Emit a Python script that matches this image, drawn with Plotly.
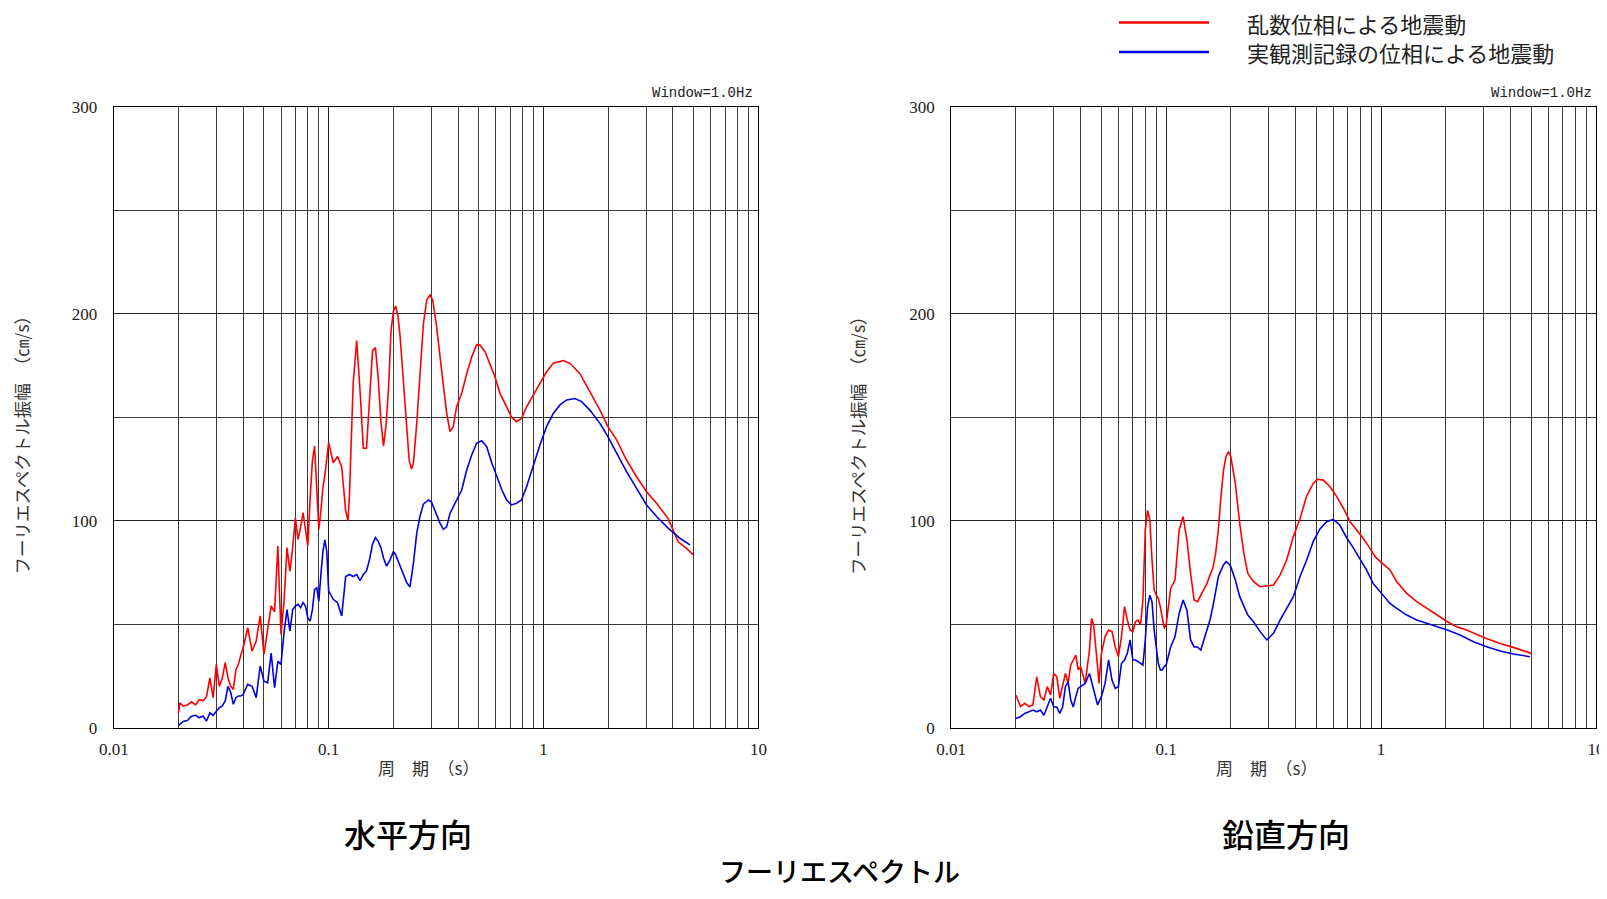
import plotly.graph_objs as go
from plotly.subplots import make_subplots

# ---- 水平方向 : 乱数位相 ----
h_rand_T = [0.0200, 0.0203, 0.021, 0.022, 0.023, 0.024, 0.025, 0.026, 0.027, 0.028, 0.029, 0.030,
            0.031, 0.032, 0.033, 0.034, 0.035, 0.036, 0.037, 0.038, 0.039, 0.040, 0.042, 0.044,
            0.046, 0.048, 0.050, 0.052, 0.054, 0.056, 0.058, 0.060, 0.062, 0.064, 0.066, 0.068,
            0.070, 0.072, 0.074, 0.076, 0.078, 0.080, 0.082, 0.084, 0.086, 0.088, 0.090, 0.092,
            0.094, 0.096, 0.098, 0.100, 0.105, 0.110, 0.115, 0.120, 0.123, 0.125, 0.130, 0.135,
            0.140, 0.145, 0.150, 0.155, 0.160, 0.165, 0.170, 0.175, 0.180, 0.185, 0.190, 0.195,
            0.200, 0.205, 0.210, 0.215, 0.222, 0.229, 0.237, 0.243, 0.248, 0.257, 0.266, 0.276,
            0.286, 0.296, 0.305, 0.318, 0.330, 0.342, 0.354, 0.367, 0.380, 0.394, 0.416, 0.439,
            0.463, 0.488, 0.506, 0.534, 0.563, 0.594, 0.627, 0.673, 0.710, 0.749, 0.790, 0.834,
            0.895, 0.962, 1.033, 1.110, 1.235, 1.327, 1.476, 1.643, 1.830, 1.993, 2.187, 2.434,
            2.710, 3.016, 3.357, 3.803, 4.013, 4.233, 4.629, 4.971]
h_rand_A = [7, 12, 10.5, 11, 12.5, 11, 13.5, 13, 15, 24, 14.5, 30.6,
            20, 24, 31.4, 24, 20, 18.5, 28, 30.6, 35, 38.6, 48.3, 37,
            41.9, 54, 35.4, 48, 58.8, 56, 87.8, 45, 61, 87, 75.5, 87,
            101.4, 91, 96.6, 103.9, 95, 87.8, 111, 128.8, 136, 112.7, 95.8, 104.7,
            116, 122, 128.8, 137.7, 128, 131, 126, 104.7, 100, 112.7, 166, 187,
            162.6, 135, 135, 159, 182, 183.6, 169, 148, 136, 146.5, 164, 191.6,
            201, 203.7, 199, 189, 170, 147, 129, 125, 127.7, 147, 169.5, 195,
            206.6, 209, 206.6, 193.7, 179, 164.7, 152, 143, 145.4, 155, 161.5, 171,
            179, 185, 184.8, 181.6, 176, 169.5, 161.5, 155, 150, 147.8, 149.4, 155,
            160.7, 166, 171.9, 176, 177.3, 176, 171, 162.3, 153.4, 145.4, 139, 129.3,
            121.2, 114, 108.4, 101, 95.5, 89.8, 86.6, 83.5]

# ---- 水平方向 : 実観測記録の位相 ----
h_obs_T = [0.0200, 0.021, 0.022, 0.023, 0.024, 0.025, 0.026, 0.027, 0.028, 0.029, 0.030, 0.031,
           0.032, 0.033, 0.034, 0.035, 0.036, 0.037, 0.038, 0.039, 0.040, 0.042, 0.044, 0.046,
           0.048, 0.050, 0.052, 0.054, 0.056, 0.058, 0.060, 0.062, 0.064, 0.066, 0.068, 0.070,
           0.072, 0.074, 0.076, 0.078, 0.080, 0.082, 0.084, 0.086, 0.088, 0.090, 0.092, 0.094,
           0.096, 0.098, 0.100, 0.105, 0.110, 0.115, 0.120, 0.125, 0.130, 0.135, 0.140, 0.145,
           0.150, 0.155, 0.160, 0.165, 0.170, 0.175, 0.180, 0.186, 0.193, 0.200, 0.204, 0.211,
           0.219, 0.231, 0.239, 0.248, 0.257, 0.266, 0.276, 0.291, 0.301, 0.312, 0.330, 0.342,
           0.354, 0.367, 0.394, 0.416, 0.439, 0.463, 0.488, 0.515, 0.544, 0.575, 0.607, 0.640,
           0.673, 0.710, 0.749, 0.790, 0.834, 0.895, 0.962, 1.033, 1.110, 1.193, 1.281, 1.400,
           1.504, 1.643, 1.830, 1.993, 2.187, 2.434, 2.710, 3.016, 3.357, 3.803, 4.313, 4.801]
h_obs_A = [1, 3, 3.5, 5.6, 6, 4.8, 5.6, 3.2, 7.2, 6, 8, 9.7,
           10.5, 12.9, 20, 17, 11.3, 14.5, 15.3, 15.3, 16, 21, 20, 14.5,
           29.8, 22.5, 21.7, 36, 19.3, 32, 30.6, 46, 57, 46.7, 57, 58.8,
           59.6, 58, 60.4, 58.8, 53, 51.5, 57, 66.8, 67.6, 61, 74, 85,
           90.7, 85, 66, 62, 60.4, 54, 73, 74, 73, 74, 71, 74,
           75.7, 81.3, 88.6, 91.8, 90, 87, 82, 78, 81, 85, 84, 80,
           76, 70, 68, 79.4, 94, 102, 108, 110, 109, 105, 98.7, 95.8,
           97, 103.5, 110, 114.8, 124.5, 131.7, 137.4, 138.6, 135.7, 127.7, 121.2, 114.8,
           110, 107.6, 108.4, 110, 116.4, 126.9, 136.5, 145.4, 151.8, 155.9, 158.3, 159,
           157.5, 153.4, 147, 140.6, 132.5, 123.7, 115.6, 107.6, 102, 96.4, 91.5, 88.3]

# ---- 鉛直方向 : 乱数位相 ----
v_rand_T = [0.0200, 0.021, 0.022, 0.023, 0.024, 0.025, 0.026, 0.027, 0.028, 0.029, 0.030, 0.031,
            0.032, 0.033, 0.034, 0.035, 0.036, 0.037, 0.038, 0.039, 0.040, 0.042, 0.044, 0.045,
            0.046, 0.048, 0.0487, 0.050, 0.052, 0.054, 0.056, 0.058, 0.060, 0.062, 0.064, 0.066,
            0.068, 0.070, 0.072, 0.074, 0.076, 0.078, 0.080, 0.082, 0.084, 0.086, 0.088, 0.090,
            0.092, 0.094, 0.096, 0.098, 0.100, 0.105, 0.110, 0.115, 0.120, 0.125, 0.130, 0.135,
            0.140, 0.145, 0.150, 0.155, 0.160, 0.165, 0.170, 0.175, 0.180, 0.185, 0.190, 0.195,
            0.200, 0.205, 0.210, 0.220, 0.230, 0.240, 0.255, 0.274, 0.294, 0.316, 0.339, 0.364,
            0.391, 0.420, 0.451, 0.484, 0.507, 0.539, 0.579, 0.622, 0.668, 0.718, 0.770, 0.827,
            0.889, 0.938, 1.015, 1.101, 1.183, 1.317, 1.466, 1.632, 1.816, 2.036, 2.250, 2.505,
            3.070, 3.581, 4.130, 5.000]
v_rand_A = [15.8, 10.2, 11.8, 10.2, 11, 24.6, 15, 13.4, 19.8, 15.8, 26.2, 24.6,
            14.2, 19.8, 26.2, 21.4, 30.3, 32.7, 35, 27.9, 29.5, 21.4, 37.5, 52.8,
            49.6, 29.5, 21.4, 35.9, 44, 47.2, 46.4, 39, 34.3, 44, 58.4, 52,
            47.2, 46.4, 51.2, 52, 49.6, 61.7, 95.5, 105, 100.3, 81, 66.5, 64,
            62.5, 58.4, 52, 48, 49.6, 67.3, 71.3, 95.5, 101.9, 90.6, 74.5, 61.7,
            60.9, 64, 67.3, 69.7, 73.7, 77, 84.2, 95.5, 111.5, 124.4, 131, 133.3,
            131, 125.3, 118, 98.7, 84.2, 74.5, 70.5, 68.1, 68.4, 68.9, 73.7, 81,
            92.3, 101, 112, 118, 120, 119.6, 116.4, 111.6, 106, 99.5, 95.5, 91.4,
            86.6, 82.6, 79.4, 76.2, 70.5, 64.9, 60.9, 57.6, 54.4, 51.2, 48.8, 47.2,
            43.2, 40.7, 38.8, 35.9]

# ---- 鉛直方向 : 実観測記録の位相 ----
v_obs_T = [0.0200, 0.021, 0.022, 0.023, 0.024, 0.025, 0.026, 0.027, 0.028, 0.029, 0.030, 0.031,
           0.032, 0.033, 0.034, 0.035, 0.036, 0.037, 0.038, 0.039, 0.040, 0.042, 0.044, 0.046,
           0.048, 0.050, 0.052, 0.054, 0.056, 0.058, 0.060, 0.062, 0.064, 0.066, 0.068, 0.070,
           0.072, 0.074, 0.076, 0.078, 0.080, 0.082, 0.084, 0.086, 0.088, 0.090, 0.092, 0.094,
           0.096, 0.098, 0.100, 0.105, 0.110, 0.115, 0.120, 0.125, 0.130, 0.135, 0.140, 0.145,
           0.150, 0.155, 0.160, 0.165, 0.170, 0.175, 0.180, 0.185, 0.190, 0.195, 0.200, 0.205,
           0.210, 0.220, 0.230, 0.240, 0.255, 0.274, 0.294, 0.316, 0.339, 0.364, 0.391, 0.420,
           0.451, 0.484, 0.520, 0.558, 0.599, 0.643, 0.690, 0.742, 0.797, 0.856, 0.919, 1.015,
           1.101, 1.183, 1.317, 1.466, 1.632, 1.816, 2.036, 2.333, 2.694, 3.102, 3.581, 4.130,
           4.930]
v_obs_A = [4.5, 5.3, 6.9, 7.7, 8.5, 7.7, 8.5, 6, 10, 14.2, 10, 10,
           6.9, 10, 19.8, 22.2, 13.4, 10, 15, 19, 19.8, 21.4, 26.2, 19,
           11, 15, 21.4, 32.7, 23, 19, 19.8, 31, 32.7, 35.9, 42.4, 32.7,
           32.7, 31.9, 31, 30.3, 42.4, 58.4, 64, 60.8, 47.2, 37.5, 31, 27.9,
           27.9, 29.5, 30.3, 39, 44, 55.2, 61.7, 56.8, 42.4, 39, 39, 37.5,
           42.4, 47.2, 52, 58.4, 66.5, 72.9, 76, 78.6, 80.2, 79.4, 77.8, 74.5,
           71.3, 63.3, 58.4, 54.4, 51.2, 46.4, 42.4, 45.6, 52, 58, 63.3, 73,
           81, 90, 96, 99.5, 100.6, 97.9, 92, 87, 81.8, 76.2, 69.7, 64.1,
           60, 57.6, 54.4, 52, 50.4, 49.1, 47.2, 44.8, 41.5, 39.1, 37, 35.6,
           34.3]

RED = '#FF0000'
BLUE = '#0000E0'
SERIF = 'Liberation Serif, DejaVu Serif, serif'
JP = 'Noto Sans CJK JP, sans-serif'

# ページ本体の余白 (8px) を差し引いた図のサイズ
PAD = 8
W, H = 1607 - 2 * PAD, 899 - 2 * PAD

fig = make_subplots(rows=1, cols=2)

fig.add_trace(go.Scatter(x=h_rand_T, y=h_rand_A, mode='lines', line=dict(color=RED, width=1.6),
                         name='乱数位相による地震動'), 1, 1)
fig.add_trace(go.Scatter(x=h_obs_T, y=h_obs_A, mode='lines', line=dict(color=BLUE, width=1.6),
                         name='実観測記録の位相による地震動'), 1, 1)
fig.add_trace(go.Scatter(x=v_rand_T, y=v_rand_A, mode='lines', line=dict(color=RED, width=1.6),
                         name='乱数位相による地震動'), 1, 2)
fig.add_trace(go.Scatter(x=v_obs_T, y=v_obs_A, mode='lines', line=dict(color=BLUE, width=1.6),
                         name='実観測記録の位相による地震動'), 1, 2)

# 対数軸の補助グリッド (2..9 x 10^n)
minor_x = [m * 10.0 ** e for e in (-2, -1, 0) for m in range(2, 10)]

xaxis_style = dict(type='log', range=[-2, 1], automargin=False,
                   tickmode='array', tickvals=[0.01, 0.1, 1, 10], ticktext=['0.01', '0.1', '1', '10'],
                   showgrid=True, gridcolor='#222222', gridwidth=1,
                   minor=dict(tickmode='array', tickvals=minor_x, showgrid=True,
                              gridcolor='#3a3a3a', gridwidth=1, ticks=''),
                   showline=True, mirror=True, linecolor='black', linewidth=1.2,
                   ticks='', zeroline=False, ticklabelstandoff=6, ticklabeloverflow='allow',
                   tickfont=dict(family=SERIF, size=17, color='#222'))
yaxis_style = dict(range=[0, 300], automargin=False,
                   tickmode='array', tickvals=[0, 100, 200, 300],
                   showgrid=True, gridcolor='#222222', gridwidth=1,
                   minor=dict(tickmode='linear', tick0=0, dtick=50, showgrid=True,
                              gridcolor='#3a3a3a', gridwidth=1, ticks=''),
                   showline=True, mirror=True, linecolor='black', linewidth=1.2,
                   ticks='', zeroline=False, ticklabelstandoff=12,
                   tickfont=dict(family=SERIF, size=17, color='#222'))

fig.update_xaxes(**xaxis_style)
fig.update_yaxes(**yaxis_style)


def px(x, y):
    # 画面上のピクセル位置 -> paper 座標
    return (x - PAD) / W, 1 - (y - PAD) / H


fig.update_layout(
    width=W, height=H,
    margin=dict(l=0, r=0, t=0, b=0, autoexpand=False),
    plot_bgcolor='white', paper_bgcolor='white',
    showlegend=False,
    xaxis=dict(domain=[px(113.8, 0)[0], px(758.4, 0)[0]]),
    xaxis2=dict(domain=[px(951.2, 0)[0], px(1595.9, 0)[0]]),
    yaxis=dict(domain=[px(0, 727.7)[1], px(0, 106.6)[1]]),
    yaxis2=dict(domain=[px(0, 727.7)[1], px(0, 106.6)[1]]),
)

annos = []
# 軸タイトル・注記
for cx, yx, wx in [(428, 20.5, 755), (1266, 857, 1594)]:
    ax, ay = px(cx, 767)
    annos.append(dict(text='周　期　（s）', x=ax, y=ay, font=dict(family=JP, size=17, color='#333')))
    ax, ay = px(yx, 441)
    annos.append(dict(text='フーリエスペクトル振幅　（㎝/s）', x=ax, y=ay, textangle=-90,
                      font=dict(family=JP, size=17.5, color='#333')))
    ax, ay = px(wx, 93)
    annos.append(dict(text='Window=1.0Hz', x=ax, y=ay, xanchor='right',
                      font=dict(family='Liberation Mono, monospace', size=14, color='#222')))

# 下部タイトル
for t, cx, cy, s in [('水平方向', 408, 833, 32), ('鉛直方向', 1286, 833, 32), ('フーリエスペクトル', 840, 870, 27)]:
    ax, ay = px(cx, cy)
    annos.append(dict(text=t, x=ax, y=ay, font=dict(family=JP, size=s, color='black', weight=500)))

# 凡例
shapes = []
for label, color, ly in [('乱数位相による地震動', RED, 22.5), ('実観測記録の位相による地震動', BLUE, 52)]:
    x0, y0 = px(1119, ly)
    x1, _ = px(1209, ly)
    shapes.append(dict(type='line', xref='paper', yref='paper', x0=x0, x1=x1, y0=y0, y1=y0,
                       line=dict(color=color, width=2.5)))
    tx, ty = px(1245, ly)
    annos.append(dict(text=label, x=tx, y=ty, xanchor='left',
                      font=dict(family=JP, size=22, color='#222')))

for a in annos:
    a.setdefault('xref', 'paper')
    a.setdefault('yref', 'paper')
    a.setdefault('showarrow', False)
    a.setdefault('xanchor', 'center')
    a.setdefault('yanchor', 'middle')

fig.update_layout(annotations=annos, shapes=shapes)
fig.update_traces(hovertemplate='T: %{x}<br>A: %{y}')

fig.write_html('out.html')
